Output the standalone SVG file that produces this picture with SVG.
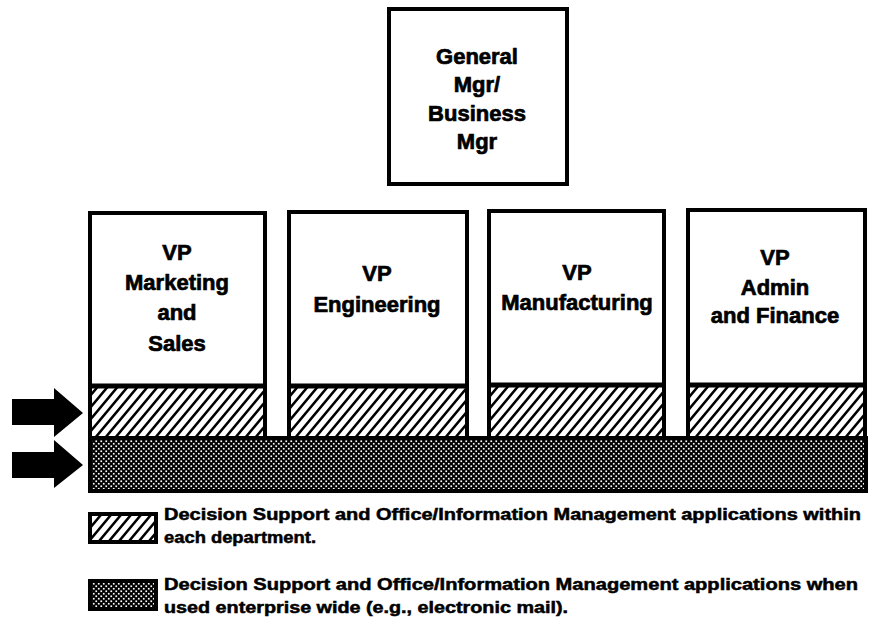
<svg xmlns="http://www.w3.org/2000/svg" width="881" height="622" viewBox="0 0 881 622">
<style>
.box{fill:#fff;stroke:#000;stroke-width:4}
.sep{stroke:#000;stroke-width:5}
.lbl{font-family:"Liberation Sans",Arial,sans-serif;font-weight:bold;font-size:22px;fill:#000;stroke:#000;stroke-width:0.7;text-anchor:middle}
.leg{font-family:"Liberation Sans",Arial,sans-serif;font-weight:bold;font-size:16px;fill:#000;stroke:#000;stroke-width:0.5}
.hatch{fill:url(#hatch);stroke:#000;stroke-width:4}
.dots{fill:url(#dots);stroke:#000;stroke-width:4}
.arrow{fill:#000}
</style>
<defs>
<pattern id="hatch" patternUnits="userSpaceOnUse" width="10" height="12">
<rect width="10" height="12" fill="#fff"/>
<path d="M-1,13.2 L11,-1.2 M-11,13.2 L1,-1.2 M9,13.2 L21,-1.2" stroke="#000" stroke-width="2.5"/>
</pattern>
<pattern id="dots" patternUnits="userSpaceOnUse" width="5" height="5">
<rect width="5" height="5" fill="#000"/>
<rect x="0.4" y="0.4" width="1.7" height="1.7" fill="#fff"/>
<rect x="2.9" y="2.9" width="1.7" height="1.7" fill="#fff"/>
</pattern>
</defs>
<rect width="881" height="622" fill="#fff"/>

<g id="node-general-mgr">
<rect class="box" x="389" y="9" width="178" height="175"/>
<text class="lbl" x="477" y="64">General</text>
<text class="lbl" x="477" y="92">Mgr/</text>
<text class="lbl" x="477" y="121">Business</text>
<text class="lbl" x="477" y="149">Mgr</text>
</g>

<g id="band-enterprise">
<rect class="dots" x="90" y="438" width="776" height="53"/>
</g>

<g id="node-vp-marketing">
<rect class="box" x="90" y="213" width="175" height="225"/>
<rect class="hatch" x="90" y="386" width="175" height="52"/>
<line class="sep" x1="90" y1="386" x2="265" y2="386"/>
<text class="lbl" x="177" y="260">VP</text>
<text class="lbl" x="177" y="290">Marketing</text>
<text class="lbl" x="177" y="320">and</text>
<text class="lbl" x="177" y="351">Sales</text>
</g>

<g id="node-vp-engineering">
<rect class="box" x="289" y="212" width="178" height="226"/>
<rect class="hatch" x="289" y="386" width="178" height="52"/>
<line class="sep" x1="289" y1="386" x2="467" y2="386"/>
<text class="lbl" x="377" y="281">VP</text>
<text class="lbl" x="377" y="312">Engineering</text>
</g>

<g id="node-vp-manufacturing">
<rect class="box" x="489" y="211" width="175" height="227"/>
<rect class="hatch" x="489" y="385" width="175" height="53"/>
<line class="sep" x1="489" y1="385" x2="664" y2="385"/>
<text class="lbl" x="577" y="280">VP</text>
<text class="lbl" x="577" y="310">Manufacturing</text>
</g>

<g id="node-vp-admin">
<rect class="box" x="688" y="210" width="177" height="228"/>
<rect class="hatch" x="688" y="385" width="177" height="53"/>
<line class="sep" x1="688" y1="385" x2="865" y2="385"/>
<text class="lbl" x="775" y="265">VP</text>
<text class="lbl" x="775" y="295">Admin</text>
<text class="lbl" x="775" y="323">and Finance</text>
</g>

<g id="connectors">
<polygon class="arrow" points="12,399 54,399 54,388 83,413 54,437 54,425 12,425"/>
<polygon class="arrow" points="12,452 54,452 54,440 83,465 54,488 54,478 12,478"/>
</g>

<g id="legend">
<rect class="hatch" x="90" y="514" width="66" height="28"/>
<rect class="dots" x="90" y="581" width="66" height="28"/>
<text class="leg" x="164" y="520" textLength="697" lengthAdjust="spacingAndGlyphs">Decision Support and Office/Information Management applications within</text>
<text class="leg" x="164" y="543" textLength="152" lengthAdjust="spacingAndGlyphs">each department.</text>
<text class="leg" x="164" y="590" textLength="694" lengthAdjust="spacingAndGlyphs">Decision Support and Office/Information Management applications when</text>
<text class="leg" x="164" y="613" textLength="404" lengthAdjust="spacingAndGlyphs">used enterprise wide (e.g., electronic mail).</text>
</g>
</svg>
